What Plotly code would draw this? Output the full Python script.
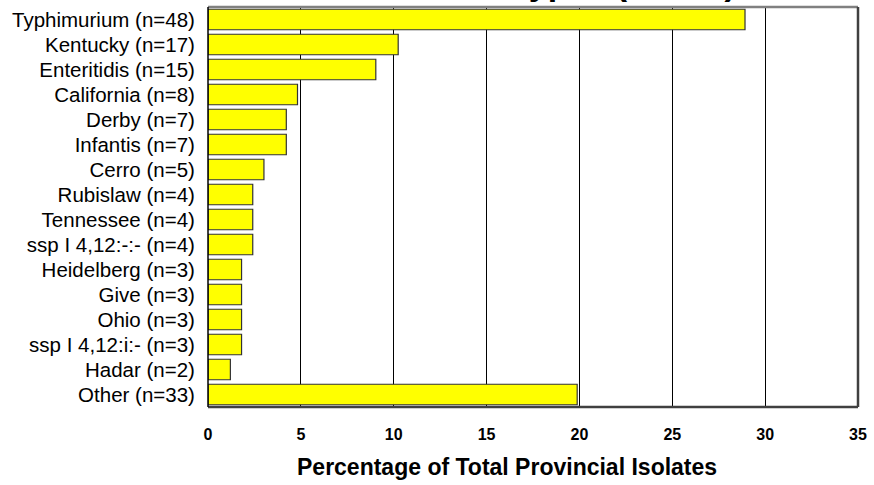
import plotly.graph_objects as go

# Serotype counts among provincial isolates
serotypes = [
    "Typhimurium", "Kentucky", "Enteritidis", "California", "Derby",
    "Infantis", "Cerro", "Rubislaw", "Tennessee", "ssp I 4,12:-:-",
    "Heidelberg", "Give", "Ohio", "ssp I 4,12:i:-", "Hadar", "Other",
]
counts = [48, 17, 15, 8, 7, 7, 5, 4, 4, 4, 3, 3, 3, 3, 2, 33]
x_ticks = [0, 5, 10, 15, 20, 25, 30, 35]

total = sum(counts)
labels = [f"{s} (n={n})" for s, n in zip(serotypes, counts)]
percent = [n / total * 100 for n in counts]

FONT = "Arial, Liberation Sans, sans-serif"

fig = go.Figure(
    go.Bar(
        x=percent,
        y=labels,
        orientation="h",
        marker=dict(color="#FFFF00", line=dict(color="#333333", width=1.2)),
        hoverinfo="x+y",
    )
)

fig.update_layout(
    width=874,
    height=485,
    margin=dict(l=208, r=12, t=7, b=78),
    paper_bgcolor="white",
    plot_bgcolor="white",
    bargap=0.18,
    showlegend=False,
    font=dict(family=FONT, color="black"),
    xaxis=dict(
        range=[0, 35],
        tickvals=x_ticks,
        ticktext=[str(v) for v in x_ticks],
        tickfont=dict(size=16, family=FONT, weight="bold"),
        ticks="outside",
        ticklen=13,
        tickcolor="rgba(0,0,0,0)",
        showgrid=True,
        gridcolor="black",
        gridwidth=1,
        zeroline=False,
        showline=False,
    ),
    yaxis=dict(
        autorange="reversed",
        tickfont=dict(size=20.5),
        ticks="outside",
        ticklen=8,
        tickcolor="rgba(0,0,0,0)",
        showgrid=False,
        showline=False,
    ),
    shapes=[
        # frame: grey top edge, dark shadowed right and bottom edges, black left axis
        dict(type="line", xref="paper", yref="paper", x0=0, x1=1, y0=1, y1=1,
             line=dict(color="#808080", width=2.5)),
        dict(type="line", xref="paper", yref="paper", x0=1, x1=1, y0=0, y1=1,
             line=dict(color="#404040", width=2.5)),
        dict(type="line", xref="paper", yref="paper", x0=0, x1=1, y0=0, y1=0,
             line=dict(color="#404040", width=2.5)),
        dict(type="line", xref="paper", yref="paper", x0=0, x1=0, y0=0, y1=1,
             line=dict(color="black", width=1.5)),
    ],
    annotations=[
        dict(
            text="<b>Salmonella Serotypes (n=166)</b>",
            xref="paper", yref="paper",
            x=0.44, y=1, xanchor="center", yanchor="bottom",
            yshift=3,
            showarrow=False,
            font=dict(size=34, family=FONT),
        ),
        dict(
            text="<b>Percentage of Total Provincial Isolates</b>",
            xref="paper", yref="paper",
            x=(509 - 208) / 654, y=0, xanchor="center", yanchor="middle",
            yshift=-60,
            showarrow=False,
            font=dict(size=23, family=FONT),
        ),
    ],
)

fig.write_html("out.html")
